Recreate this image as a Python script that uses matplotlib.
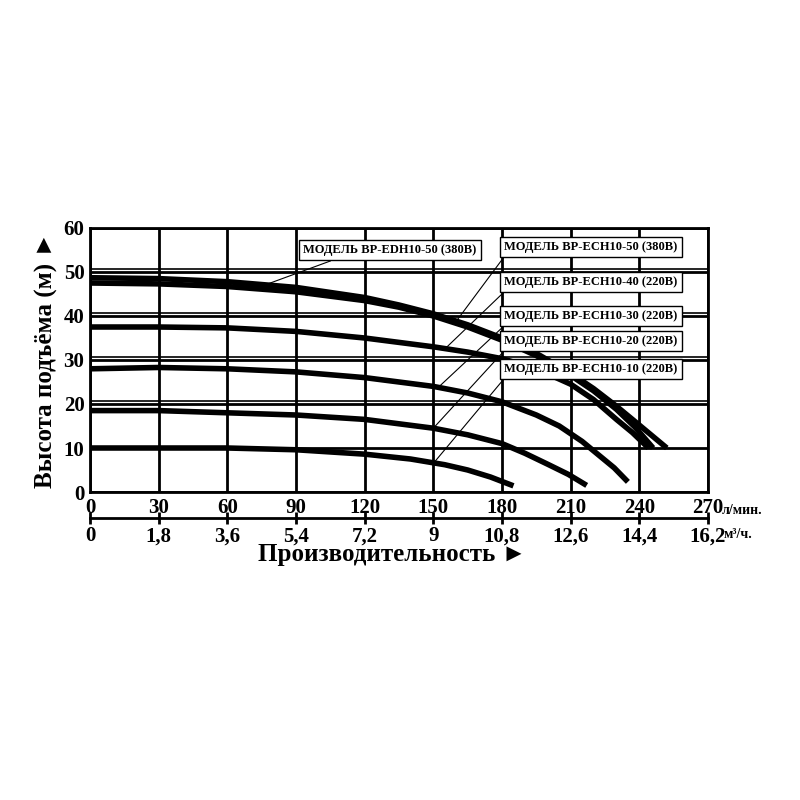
import matplotlib.pyplot as plt

plt.rcParams['font.family'] = ['Liberation Serif', 'DejaVu Serif']
plt.rcParams['font.weight'] = 'bold'

curves = {
    "ECH10-50": ([0, 30, 60, 90, 120, 135, 150, 165, 180, 195, 210, 220, 230, 240, 252],
                 [48.7, 48.5, 47.8, 46.5, 44.2, 42.5, 40.5, 38.0, 35.0, 31.5, 27.0, 23.5, 19.5, 15.2, 10.0]),
    "EDH10-50": ([0, 30, 60, 90, 120, 135, 150, 165, 180, 195, 210, 220, 230, 238, 246],
                 [47.5, 47.3, 46.7, 45.5, 43.5, 42.0, 40.0, 37.5, 34.5, 31.0, 26.5, 23.0, 18.8, 14.8, 10.0]),
    "ECH10-40": ([0, 30, 60, 90, 120, 150, 165, 180, 195, 210, 220, 230, 237, 244],
                 [37.5, 37.5, 37.3, 36.5, 35.0, 33.0, 31.8, 30.3, 28.0, 24.5, 21.0, 16.5, 13.5, 10.0]),
    "ECH10-30": ([0, 30, 60, 90, 120, 150, 165, 180, 195, 205, 215, 222, 229, 235],
                 [28.0, 28.3, 28.0, 27.3, 26.0, 24.0, 22.5, 20.5, 17.5, 15.0, 11.5, 8.5, 5.5, 2.3]),
    "ECH10-20": ([0, 30, 60, 90, 120, 150, 165, 180, 190, 200, 209, 217],
                 [18.5, 18.5, 18.0, 17.5, 16.5, 14.5, 13.0, 11.0, 8.8, 6.3, 4.0, 1.5]),
    "ECH10-10": ([0, 60, 90, 120, 140, 155, 165, 175, 185],
                 [10.0, 10.0, 9.6, 8.6, 7.5, 6.2, 5.0, 3.4, 1.4]),
}
labels = ["МОДЕЛЬ BP-ECH10-50 (380B)", "МОДЕЛЬ BP-ECH10-40 (220B)",
          "МОДЕЛЬ BP-ECH10-30 (220B)", "МОДЕЛЬ BP-ECH10-20 (220B)",
          "МОДЕЛЬ BP-ECH10-10 (220B)"]
label_y = [55.7, 47.7, 40.0, 34.3, 28.0]
leader_end = [(160, 38.8), (155, 32.5), (152, 23.7), (150, 14.5), (150, 6.5)]
x_ticks = [0, 30, 60, 90, 120, 150, 180, 210, 240, 270]
m3_ticks = ["0", "1,8", "3,6", "5,4", "7,2", "9", "10,8", "12,6", "14,4", "16,2"]

fig = plt.figure(figsize=(8, 8), dpi=100)
left, width = 0.1125, 0.7725
ax = fig.add_axes([left, 0.385, width, 0.33])
ax.set_xlim(0, 270)
ax.set_ylim(0, 60)

for x in x_ticks:
    ax.axvline(x, color='black', lw=2)
for y in range(0, 61, 10):
    ax.axhline(y, color='black', lw=2)
    if 20 <= y <= 50:
        ax.axhline(y + 0.6, color='black', lw=1.2)
for s in ax.spines.values():
    s.set_linewidth(2)

for name, (xs, ys) in curves.items():
    ax.plot(xs, ys, color='black', lw=4, solid_capstyle='butt', solid_joinstyle='round')

ax.text(131, 55, "МОДЕЛЬ BP-EDH10-50 (380B)", ha='center', va='center',
        fontsize=9, bbox=dict(facecolor='white', edgecolor='black', lw=1, pad=3))
ax.plot([105, 73], [52.5, 46.4], color='black', lw=0.8)
for lab, y, (ex, ey) in zip(labels, label_y, leader_end):
    ax.text(181, y, lab, ha='left', va='center', fontsize=9, zorder=5,
            bbox=dict(facecolor='white', edgecolor='black', lw=1, pad=3))
    ax.plot([181, ex], [y - 2.2, ey], color='black', lw=0.8)

ax.set_xticks(x_ticks)
ax.set_yticks(range(0, 61, 10))
ax.tick_params(length=0, labelsize=15, pad=4)
ax.text(276, -4.3, "л/мин.", fontsize=10, ha='left', va='center', clip_on=False)
ax.set_ylabel("Высота подъёма (м) ►", fontsize=18, fontweight='bold', labelpad=4)

ax2 = fig.add_axes([left, 1 - 518 / 800, width, 0.0001])
ax2.set_xlim(0, 16.2)
ax2.set_yticks([])
for k in ['top', 'left', 'right']:
    ax2.spines[k].set_visible(False)
ax2.spines['bottom'].set_linewidth(2)
ax2.set_xticks([i * 1.8 for i in range(10)])
ax2.set_xticklabels(m3_ticks)
ax2.tick_params(direction='inout', length=8, width=2, labelsize=15, pad=2)
fig.text(left + width + 0.02, 1 - 535 / 800, "м³/ч.", fontsize=10, ha='left', va='center')

fig.text(0.49, 1 - 555 / 800, "Производительность ►", fontsize=18,
         ha='center', va='center', fontweight='bold')

fig.savefig("out.png", dpi=100)
